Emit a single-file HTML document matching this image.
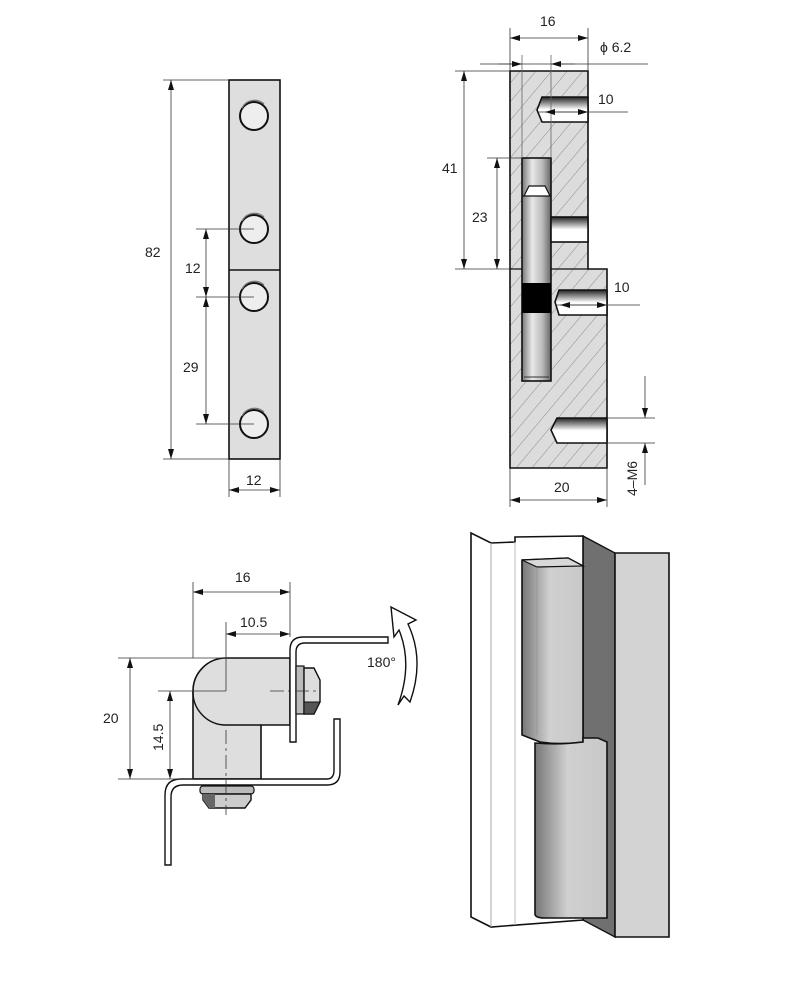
<!DOCTYPE html>
<html><head><meta charset="utf-8"><style>
html,body{margin:0;padding:0;background:#fff}
svg{display:block}
text{font-family:"Liberation Sans",Arial,sans-serif;font-size:14px;fill:#222}
</style></head><body>
<svg width="788" height="1000" viewBox="0 0 788 1000" xmlns="http://www.w3.org/2000/svg">
<defs>
<pattern id="h" width="12" height="12" patternUnits="userSpaceOnUse" patternTransform="rotate(40)">
<rect width="12" height="12" fill="#dcdcdc"/><line x1="0" y1="0" x2="0" y2="12" stroke="#777" stroke-width="0.8"/>
</pattern>
<linearGradient id="pin" x1="0" x2="1"><stop offset="0" stop-color="#777"/><stop offset="0.35" stop-color="#e8e8e8"/><stop offset="0.7" stop-color="#bbb"/><stop offset="1" stop-color="#666"/></linearGradient>
<linearGradient id="hole" x1="0" y1="0" x2="0" y2="1"><stop offset="0" stop-color="#222"/><stop offset="0.5" stop-color="#fff"/><stop offset="1" stop-color="#fff"/></linearGradient>
<linearGradient id="kn" x1="0" x2="1"><stop offset="0" stop-color="#777"/><stop offset="0.45" stop-color="#d0d0d0"/><stop offset="1" stop-color="#c8c8c8"/></linearGradient>
<marker id="a" viewBox="0 0 10 6" refX="10" refY="3" markerWidth="10" markerHeight="6" orient="auto-start-reverse" markerUnits="userSpaceOnUse"><path d="M0,0 L10,3 L0,6 Z" fill="#111"/></marker>
</defs>

<!-- ===== TOP LEFT ===== -->
<rect x="229" y="80" width="51" height="379" fill="#dedede" stroke="#111" stroke-width="1.6"/>
<line x1="229" y1="270" x2="280" y2="270" stroke="#111" stroke-width="1.6"/>
<g fill="#eee" stroke="#111" stroke-width="2">
<circle cx="254" cy="116" r="14"/><circle cx="254" cy="229" r="14"/><circle cx="254" cy="297" r="14"/><circle cx="254" cy="424" r="14"/>
</g>
<g fill="none" stroke="#777" stroke-width="1.2">
<path d="M242,108 a14,14 0 0 1 22,-4"/><path d="M242,221 a14,14 0 0 1 22,-4"/><path d="M242,289 a14,14 0 0 1 22,-4"/><path d="M242,416 a14,14 0 0 1 22,-4"/>
</g>
<g stroke="#333" stroke-width="0.8" fill="none">
<line x1="163" y1="80" x2="229" y2="80"/><line x1="163" y1="459" x2="229" y2="459"/>
<line x1="171" y1="80" x2="171" y2="459" marker-start="url(#a)" marker-end="url(#a)"/>
<line x1="196" y1="229" x2="254" y2="229"/><line x1="196" y1="297" x2="254" y2="297"/><line x1="196" y1="424" x2="254" y2="424"/>
<line x1="206" y1="229" x2="206" y2="297" marker-start="url(#a)" marker-end="url(#a)"/>
<line x1="206" y1="297" x2="206" y2="424" marker-start="url(#a)" marker-end="url(#a)"/>
<line x1="229" y1="459" x2="229" y2="497"/><line x1="280" y1="459" x2="280" y2="497"/>
<line x1="229" y1="490" x2="280" y2="490" marker-start="url(#a)" marker-end="url(#a)"/>
</g>
<text x="145" y="257">82</text><text x="185" y="273">12</text><text x="183" y="372">29</text><text x="246" y="485">12</text>

<!-- ===== TOP RIGHT SECTION ===== -->
<path d="M510,71 H588 V269 H607 V468 H510 Z" fill="url(#h)" stroke="#111" stroke-width="1.6"/>
<line x1="510" y1="269" x2="588" y2="269" stroke="#111" stroke-width="1.2"/>
<rect x="522" y="158" width="29" height="223" fill="url(#pin)" stroke="#111" stroke-width="1.6"/>
<path d="M524,196 L529,186 H545 L550,196 Z" fill="#fff" stroke="#111" stroke-width="1.2"/>
<line x1="522" y1="196" x2="551" y2="196" stroke="#111" stroke-width="1"/>
<rect x="522" y="283" width="29" height="30" fill="#000"/>
<line x1="524" y1="377" x2="549" y2="377" stroke="#333"/>
<path d="M588,97 H542 L537,110 L542,122 H588 Z" fill="url(#hole)" stroke="#111" stroke-width="1.6"/>
<rect x="551" y="217" width="37" height="25" fill="url(#hole)" stroke="#111" stroke-width="1.6"/>
<path d="M607,290 H559 L555,302 L559,315 H607 Z" fill="url(#hole)" stroke="#111" stroke-width="1.6"/>
<path d="M607,418 H557 L551,430 L557,443 H607 Z" fill="url(#hole)" stroke="#111" stroke-width="1.6"/>
<g stroke="#333" stroke-width="0.8" fill="none">
<line x1="510" y1="28" x2="510" y2="71"/><line x1="588" y1="28" x2="588" y2="71"/>
<line x1="510" y1="38" x2="588" y2="38" marker-start="url(#a)" marker-end="url(#a)"/>
<line x1="480" y1="64" x2="648" y2="64"/>
<line x1="522" y1="55" x2="522" y2="158" stroke="#666"/><line x1="551" y1="55" x2="551" y2="158" stroke="#666"/>
<line x1="498" y1="64" x2="522" y2="64" marker-end="url(#a)"/><line x1="575" y1="64" x2="551" y2="64" marker-end="url(#a)"/>
<line x1="455" y1="71" x2="510" y2="71"/><line x1="455" y1="269" x2="510" y2="269"/>
<line x1="464" y1="71" x2="464" y2="269" marker-start="url(#a)" marker-end="url(#a)"/>
<line x1="487" y1="158" x2="522" y2="158"/>
<line x1="497" y1="158" x2="497" y2="269" marker-start="url(#a)" marker-end="url(#a)"/>
<line x1="538" y1="112" x2="628" y2="112"/>
<line x1="545" y1="112" x2="588" y2="112" marker-start="url(#a)" marker-end="url(#a)"/>
<line x1="555" y1="305" x2="640" y2="305"/>
<line x1="560" y1="305" x2="607" y2="305" marker-start="url(#a)" marker-end="url(#a)"/>
<line x1="607" y1="418" x2="655" y2="418"/><line x1="607" y1="443" x2="655" y2="443"/>
<line x1="645" y1="376" x2="645" y2="418" marker-end="url(#a)"/>
<line x1="645" y1="485" x2="645" y2="443" marker-end="url(#a)"/>
<line x1="510" y1="468" x2="510" y2="507"/><line x1="607" y1="468" x2="607" y2="507"/>
<line x1="510" y1="500" x2="607" y2="500" marker-start="url(#a)" marker-end="url(#a)"/>
</g>
<text x="540" y="26">16</text><text x="600" y="52">ϕ 6.2</text><text x="442" y="173">41</text><text x="472" y="222">23</text>
<text x="598" y="104">10</text><text x="614" y="292">10</text><text x="554" y="492">20</text>
<text transform="translate(637,496) rotate(-90)">4–M6</text>

<!-- ===== BOTTOM LEFT ===== -->
<path d="M226,658 H290 V725 H261 V779 H193 V691 A33,33 0 0 1 226,658 Z" fill="#dedede" stroke="#111" stroke-width="1.6"/>
<path d="M193,691 A33,33 0 0 0 226,725 H261" fill="none" stroke="#111" stroke-width="1.4"/>
<path d="M290,742 V650 Q290,637 303,637 H388 V643 H305 Q296,643 296,652 V742 Z" fill="#fff" stroke="#111" stroke-width="1.4"/>
<rect x="296" y="666" width="8" height="48" fill="#bbb" stroke="#111" stroke-width="1.2"/>
<path d="M304,668 H314 L320,680 V702 L314,714 H304 Z" fill="#ddd" stroke="#111" stroke-width="1.4"/>
<path d="M304,702 H320 L314,714 H304 Z" fill="#555" stroke="#111"/>
<path d="M165,865 V795 Q165,779 181,779 H327 Q334,779 334,770 V719 H340 V772 Q340,785 327,785 H183 Q171,785 171,797 V865 Z" fill="#fff" stroke="#111" stroke-width="1.4"/>
<rect x="200" y="786" width="54" height="8" rx="3" fill="#bbb" stroke="#111" stroke-width="1.2"/>
<path d="M203,794 H251 V800 L245,808 H209 L203,800 Z" fill="#ccc" stroke="#111" stroke-width="1.4"/>
<path d="M203,794 H215 V808 H209 L203,800 Z" fill="#666"/>
<g stroke="#333" stroke-width="0.8" fill="none">
<line x1="193" y1="582" x2="193" y2="658"/><line x1="290" y1="582" x2="290" y2="637"/>
<line x1="193" y1="592" x2="290" y2="592" marker-start="url(#a)" marker-end="url(#a)"/>
<line x1="226" y1="622" x2="226" y2="691"/>
<line x1="226" y1="634" x2="290" y2="634" marker-start="url(#a)" marker-end="url(#a)"/>
<line x1="118" y1="658" x2="226" y2="658"/><line x1="118" y1="779" x2="193" y2="779"/>
<line x1="130" y1="658" x2="130" y2="779" marker-start="url(#a)" marker-end="url(#a)"/>
<line x1="158" y1="691" x2="226" y2="691"/>
<line x1="170" y1="691" x2="170" y2="779" marker-start="url(#a)" marker-end="url(#a)"/>
<line x1="226" y1="730" x2="226" y2="815" stroke-dasharray="14,4,3,4"/>
<line x1="270" y1="691" x2="316" y2="691" stroke-dasharray="14,4,3,4"/>
</g>
<text x="235" y="582">16</text><text x="240" y="627">10.5</text><text x="103" y="723">20</text>
<text transform="translate(163,751) rotate(-90)">14.5</text>
<text x="367" y="667">180°</text>
<path d="M391,607 L416,620 L408,624 Q425,660 410,702 L404,696 L398,705 Q413,664 399,630 L394,637 Z" fill="#fff" stroke="#111" stroke-width="1.4"/>

<!-- ===== BOTTOM RIGHT 3D ===== -->
<path d="M583,536 L615,553 V937 L583,920 Z" fill="#707070" stroke="#111" stroke-width="1.4"/>
<path d="M615,553 H669 V937 H615 Z" fill="#d3d3d3" stroke="#111" stroke-width="1.6"/>
<path d="M471,533 L491,543 L515,542 V537 L583,536 L583,920 L491,927 L471,917 Z" fill="#fff" stroke="#111" stroke-width="1.6"/>
<line x1="491" y1="543" x2="491" y2="927" stroke="#aaa"/><line x1="515" y1="542" x2="515" y2="925" stroke="#bbb"/>
<path d="M522,560 L568,558 L583,566 V742 Q560,745 540,742 L522,735 Z" fill="url(#kn)" stroke="#111" stroke-width="1.6"/>
<path d="M522,560 L568,558 L583,566 L537,567 Z" fill="#d8d8d8" stroke="#111" stroke-width="1.2"/>
<line x1="537" y1="567" x2="537" y2="735" stroke="#888" stroke-width="0.5"/>
<path d="M535,743 Q560,745 583,742 V738 L598,738 L607,742 V918 H545 Q535,918 535,914 Z" fill="url(#kn)" stroke="#111" stroke-width="1.6"/>
</svg>
</body></html>
